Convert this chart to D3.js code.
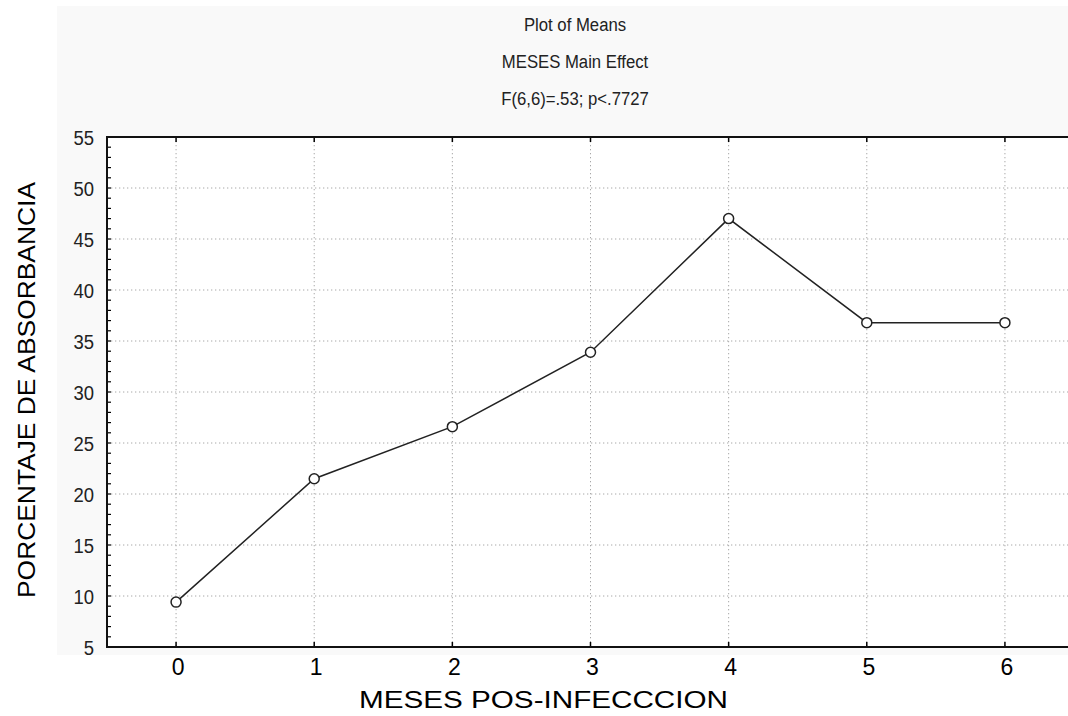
<!DOCTYPE html>
<html>
<head>
<meta charset="utf-8">
<script src="https://cdn.jsdelivr.net/npm/d3@7"></script>
<style>
html,body{margin:0;padding:0;background:#fff;overflow:hidden;}
svg{display:block;}
</style>
</head>
<body>
<svg id="chart" width="1068" height="716"></svg>
<script>
const months = ["0","1","2","3","4","5","6"];
const means = [9.4, 21.5, 26.6, 33.9, 47.0, 36.8, 36.8];
const yTicks = [5,10,15,20,25,30,35,40,45,50,55];
const titleLines = ["Plot of Means","MESES Main Effect","F(6,6)=.53; p<.7727"];
const xTitle = "MESES POS-INFECCCION";
const yTitle = "PORCENTAJE DE ABSORBANCIA";

const svg = d3.select("#chart");
const sans = "'Liberation Sans',Arial,sans-serif";

const L = 107, R = 1074, T = 137, B = 647;
const x = d3.scaleLinear().domain([-0.5, 6.5]).range([L, R]);
const y = d3.scaleLinear().domain([5, 55]).range([B, T]);

// grey panel
svg.append("rect").attr("x",57).attr("y",6).attr("width",1011).attr("height",649).attr("fill","#f9f9f9");
// plot area
svg.append("rect").attr("x",L).attr("y",T).attr("width",R-L).attr("height",B-T).attr("fill","#fff");

// grid
const g = svg.append("g");
g.selectAll(".hg").data(yTicks.filter(d=>d>5 && d<55)).enter().append("line")
  .attr("x1",L).attr("x2",R).attr("y1",d=>y(d)).attr("y2",d=>y(d))
  .attr("stroke","#a8a8a8").attr("stroke-width",1).attr("stroke-dasharray","1.3,2.7");
g.selectAll(".vg").data(months).enter().append("line")
  .attr("x1",(d,i)=>x(i)).attr("x2",(d,i)=>x(i)).attr("y1",T).attr("y2",B)
  .attr("stroke","#a8a8a8").attr("stroke-width",1).attr("stroke-dasharray","1.3,2.7");

// minor ticks on left axis (inside)
const minor = d3.range(5, 56, 1);
svg.append("g").selectAll("line").data(minor).enter().append("line")
  .attr("x1",L).attr("x2",L+4).attr("y1",d=>y(d)).attr("y2",d=>y(d))
  .attr("stroke","#000").attr("stroke-width",1.2);

// x ticks top and bottom (inside)
svg.append("g").selectAll("line").data(months).enter().append("line")
  .attr("x1",(d,i)=>x(i)).attr("x2",(d,i)=>x(i)).attr("y1",B).attr("y2",B-5)
  .attr("stroke","#000").attr("stroke-width",1.5);
svg.append("g").selectAll("line").data(months).enter().append("line")
  .attr("x1",(d,i)=>x(i)).attr("x2",(d,i)=>x(i)).attr("y1",T).attr("y2",T+5)
  .attr("stroke","#000").attr("stroke-width",1.5);

// axis frame
svg.append("line").attr("x1",L).attr("x2",L).attr("y1",T-1).attr("y2",B+1).attr("stroke","#111").attr("stroke-width",2);
svg.append("line").attr("x1",L-1).attr("x2",R).attr("y1",B).attr("y2",B).attr("stroke","#111").attr("stroke-width",2);
svg.append("line").attr("x1",L-1).attr("x2",R).attr("y1",T).attr("y2",T).attr("stroke","#111").attr("stroke-width",2.2);

// y tick labels (narrow look)
svg.append("g").selectAll("g").data(yTicks).enter().append("g")
  .attr("transform",d=>`translate(94,${y(d)+7.5}) scale(0.88,1)`)
  .append("text").attr("text-anchor","end")
  .attr("font-family",sans).attr("font-size",21).attr("fill","#222")
  .text(d=>d);

// x tick labels
svg.append("g").selectAll("text").data(months).enter().append("text")
  .attr("x",(d,i)=>x(i)+2).attr("y",675).attr("text-anchor","middle")
  .attr("font-family",sans).attr("font-size",23).attr("fill","#000")
  .text(d=>d);

// line + markers
const line = d3.line().x((d,i)=>x(i)).y(d=>y(d));
svg.append("path").datum(means).attr("d",line).attr("fill","none")
  .attr("stroke","#222").attr("stroke-width",1.5);
svg.append("g").selectAll("circle").data(means).enter().append("circle")
  .attr("cx",(d,i)=>x(i)).attr("cy",d=>y(d)).attr("r",5)
  .attr("fill","#fff").attr("stroke","#222").attr("stroke-width",1.5);

// titles (narrow look)
svg.append("g").selectAll("g").data(titleLines).enter().append("g")
  .attr("transform",(d,i)=>`translate(575,${31+i*37}) scale(0.88,1)`)
  .append("text").attr("text-anchor","middle")
  .attr("font-family",sans).attr("font-size",19).attr("fill","#222")
  .text(d=>d);

// axis titles
svg.append("text").attr("x",359).attr("y",708)
  .attr("font-family",sans).attr("font-size",24).attr("fill","#000")
  .attr("textLength",369).attr("lengthAdjust","spacingAndGlyphs")
  .text(xTitle);
svg.append("text").attr("transform","translate(35,598) rotate(-90)")
  .attr("font-family",sans).attr("font-size",24).attr("fill","#000")
  .attr("textLength",416).attr("lengthAdjust","spacingAndGlyphs")
  .text(yTitle);
</script>
</body>
</html>
